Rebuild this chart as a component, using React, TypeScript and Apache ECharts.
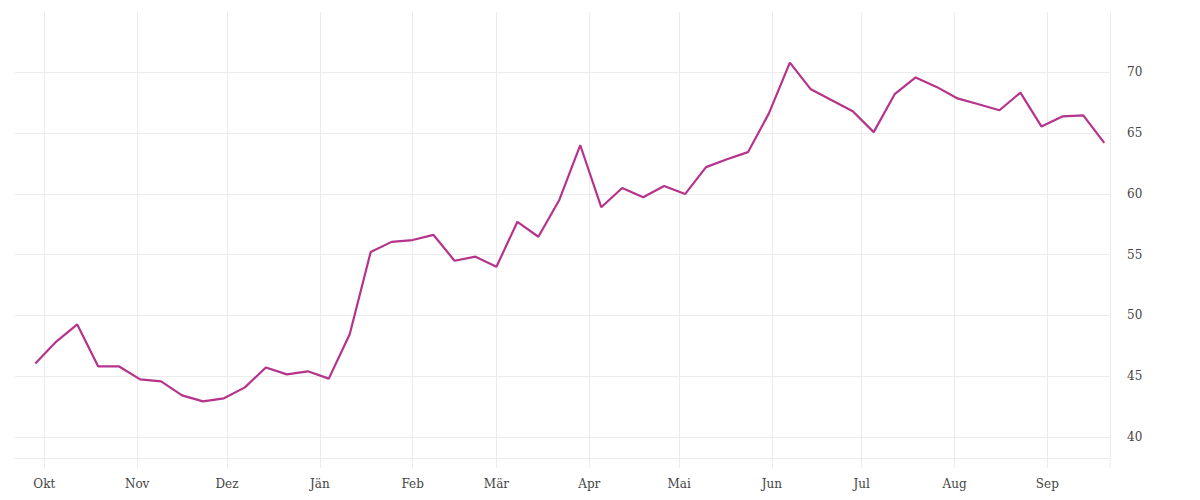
import React, { useEffect, useRef } from "react";
import * as echarts from "echarts";

const dates: string[] = [
  "2022-09-28", "2022-10-05", "2022-10-12", "2022-10-19", "2022-10-26",
  "2022-11-02", "2022-11-09", "2022-11-16", "2022-11-23", "2022-11-30",
  "2022-12-07", "2022-12-14", "2022-12-21", "2022-12-28",
  "2023-01-04", "2023-01-11", "2023-01-18", "2023-01-25",
  "2023-02-01", "2023-02-08", "2023-02-15", "2023-02-22",
  "2023-03-01", "2023-03-08", "2023-03-15", "2023-03-22", "2023-03-29",
  "2023-04-05", "2023-04-12", "2023-04-19", "2023-04-26",
  "2023-05-03", "2023-05-10", "2023-05-17", "2023-05-24", "2023-05-31",
  "2023-06-07", "2023-06-14", "2023-06-21", "2023-06-28",
  "2023-07-05", "2023-07-12", "2023-07-19", "2023-07-26",
  "2023-08-02", "2023-08-09", "2023-08-16", "2023-08-23", "2023-08-30",
  "2023-09-06", "2023-09-13", "2023-09-20",
];

const values: number[] = [
  46.05, 47.85, 49.26, 45.8, 45.8,
  44.74, 44.58, 43.42, 42.93, 43.18,
  44.08, 45.72, 45.15, 45.4,
  44.8, 48.45, 55.22, 56.05,
  56.2, 56.62, 54.5, 54.83,
  54.0, 57.7, 56.47, 59.5, 64.0,
  58.9, 60.48, 59.72, 60.65,
  59.98, 62.2, 62.85, 63.43, 66.62,
  70.8, 68.6, 67.7, 66.8,
  65.08, 68.2, 69.58, 68.8,
  67.85, 67.37, 66.88, 68.33, 65.55,
  66.37, 66.45, 64.2,
];

const monthLabels: string[] = [
  "Jän", "Feb", "Mär", "Apr", "Mai", "Jun",
  "Jul", "Aug", "Sep", "Okt", "Nov", "Dez",
];

const FONT = "DejaVu Serif";
const GRID = "#ececec";

export default function App() {
  const ref = useRef<HTMLDivElement>(null);

  useEffect(() => {
    document.body.style.margin = "0";
    if (!ref.current) return;
    const chart = echarts.init(ref.current, undefined, { renderer: "svg" });
    const xMin = new Date(2022, 8, 21, 5).getTime();
    const xMax = new Date(2023, 8, 21, 22).getTime();
    chart.setOption({
      animation: false,
      backgroundColor: "#ffffff",
      grid: { left: 15, right: 90, top: 12, bottom: 42, containLabel: false },
      xAxis: {
        type: "time",
        min: xMin,
        max: xMax,
        splitNumber: 12,
        minInterval: 28 * 24 * 3600 * 1000,
        maxInterval: 31 * 24 * 3600 * 1000,
        axisLine: { show: true, lineStyle: { color: GRID, width: 1 } },
        axisTick: { show: true, length: 10, lineStyle: { color: GRID } },
        splitLine: {
          show: true,
          showMinLine: false,
          showMaxLine: false,
          lineStyle: { color: GRID, width: 1 },
        },
        axisLabel: {
          margin: 20,
          color: "#444",
          fontFamily: FONT,
          fontSize: 12,
          hideOverlap: false,
          formatter: (v: number) => monthLabels[new Date(v).getMonth()],
        },
      },
      yAxis: {
        type: "value",
        position: "right",
        min: 38.27,
        max: 74.96,
        splitNumber: 8,
        scale: true,
        axisLine: { show: true, lineStyle: { color: GRID, width: 1 } },
        axisTick: { show: false },
        splitLine: {
          show: true,
          showMinLine: false,
          showMaxLine: false,
          lineStyle: { color: GRID, width: 1 },
        },
        axisLabel: {
          margin: 17,
          color: "#444",
          fontFamily: FONT,
          fontSize: 12,
          padding: [4, 0, 0, 0],
          showMinLabel: false,
          showMaxLabel: false,
          formatter: (v: number) =>
            Math.abs(v / 5 - Math.round(v / 5)) < 1e-6 ? String(Math.round(v)) : "",
        },
      },
      graphic: [
        {
          type: "line",
          shape: { x1: 1110, y1: 458, x2: 1110, y2: 468 },
          style: { stroke: GRID, lineWidth: 1 },
          silent: true,
        },
      ],
      series: [
        {
          type: "line",
          data: dates.map((d, i) => [d, values[i]]),
          showSymbol: false,
          symbol: "none",
          lineStyle: { color: "#b5338b", width: 2.2 },
          itemStyle: { color: "#b5338b" },
        },
      ],
    });
    return () => chart.dispose();
  }, []);

  return <div ref={ref} style={{ width: 1200, height: 500 }} />;
}
